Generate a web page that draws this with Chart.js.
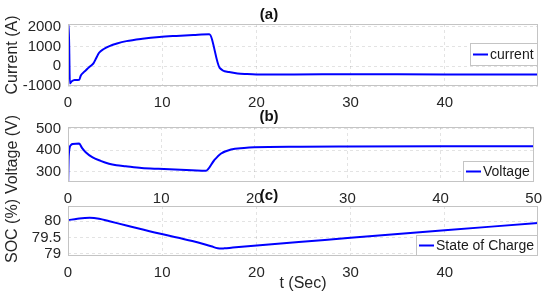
<!DOCTYPE html>
<html>
<head>
<meta charset="utf-8">
<script src="https://cdn.jsdelivr.net/npm/chart.js@4"></script>
<style>
  body { margin: 0; background: #fff; }
  #wrap { position: relative; width: 550px; height: 293px; }
  canvas { position: absolute; left: 0; }
</style>
</head>
<body>
<div id="wrap">
  <canvas id="chartA" width="550" height="110" style="top:0px"></canvas>
  <canvas id="chartB" width="550" height="110" style="top:100px"></canvas>
  <canvas id="chartC" width="550" height="108" style="top:185px"></canvas>
</div>
<script>
// (a) current
const timeA = [0.05, 0.08, 0.2, 0.4, 0.7, 1.2, 1.35, 1.6, 1.9, 2.2, 2.5, 2.7, 3.0, 3.3, 3.8, 4.4, 5.2, 6.2, 7.9, 9.7, 11.5, 13.3, 15.0, 16.1, 17.1, 18.0, 18.9, 20, 24, 30, 40, 49.9];
const current = [2150, 2150, -870, -760, -690, -680, -480, -330, -200, -60, 60, 150, 420, 690, 880, 1025, 1160, 1280, 1400, 1490, 1545, 1590, 1625, -80, -290, -360, -390, -410, -410, -405, -410, -410];
// (b) voltage
const timeB = [0.02, 0.06, 0.12, 0.2, 0.35, 0.5, 1.2, 1.5, 1.9, 2.6, 3.5, 4.4, 5.2, 6.2, 7.9, 9.7, 11.5, 13.3, 14.8, 15.7, 16.4, 17.5, 18.9, 20, 25, 30, 40, 50];
const voltage = [255, 350, 395, 415, 425, 428, 430, 410, 390, 367, 350, 337, 330, 325, 317, 313, 310, 307, 304, 353, 383, 403, 410, 413, 416, 417, 418, 418];
// (c) state of charge
const timeC = [0, 1, 2.3, 3.3, 4.4, 6.2, 9.7, 13.2, 15.2, 15.9, 16.6, 17.5, 24.5, 30, 40, 49.9];
const soc = [80.03, 80.08, 80.11, 80.08, 80.0, 79.87, 79.62, 79.39, 79.23, 79.17, 79.165, 79.19, 79.36, 79.49, 79.72, 79.95];

const ticksX = [0, 10, 20, 30, 40];
const ticksXB = [0, 10, 20, 30, 40, 50];
const ticksCurrent = [-1000, 0, 1000, 2000];
const ticksVoltage = [300, 400, 500];
const ticksSoc = [79, 79.5, 80];

const FONT = '"Liberation Sans", Arial, sans-serif';
const TXT = '#262626';

// box round the plot area + legend inside it
const frameAndLegend = {
    id: 'frameAndLegend',
    afterDatasetsDraw(chart, args, opts) {
        const { ctx, chartArea: a } = chart;
        ctx.save();
        ctx.strokeStyle = '#c4c4c4';
        ctx.lineWidth = 1;
        ctx.strokeRect(Math.round(a.left) + 0.5, Math.round(a.top) + 0.5,
            Math.round(a.right - a.left) - 1, Math.round(a.bottom - a.top) - 1);

        const label = chart.data.datasets[0].label;
        ctx.font = '14px ' + FONT;
        const w = Math.round(3 + 15 + 2 + ctx.measureText(label).width + 4);
        const h = opts.height || 21;
        const x = Math.round(a.right) - w;
        const y = opts.atBottom ? Math.round(a.bottom) - h : Math.round(a.top) + opts.offsetTop;
        ctx.fillStyle = '#fff';
        ctx.fillRect(x, y, w, h);
        ctx.strokeRect(x + 0.5, y + 0.5, w - 1, h - 1);
        ctx.strokeStyle = '#0000ff';
        ctx.lineWidth = 2;
        ctx.beginPath();
        ctx.moveTo(x + 3, y + h / 2);
        ctx.lineTo(x + 18, y + h / 2);
        ctx.stroke();
        ctx.fillStyle = '#1a1a1a';
        ctx.textBaseline = 'middle';
        ctx.fillText(label, x + 20, y + h / 2 + 1);
        ctx.restore();
    }
};

function makeChart(id, o) {
    const points = o.t.map((t, i) => ({ x: t, y: o.v[i] }));
    return new Chart(document.getElementById(id), {
        type: 'line',
        data: {
            datasets: [{
                label: o.label,
                data: points,
                borderColor: '#0000ff',
                borderWidth: 2,
                pointRadius: 0,
                cubicInterpolationMode: o.smooth ? 'default' : 'monotone',
                tension: o.smooth ? 0.4 : 0,
                fill: false
            }]
        },
        options: {
            responsive: false,
            animation: false,
            layout: { padding: { left: 0, right: 12, top: 0, bottom: 0 } },
            plugins: {
                legend: { display: false },
                tooltip: { enabled: false },
                title: {
                    display: true,
                    text: o.title,
                    color: '#111',
                    font: { family: FONT, size: 15, weight: 'bold' },
                    padding: o.titlePad
                },
                frameAndLegend: o.legend
            },
            scales: {
                x: {
                    type: 'linear',
                    min: 0,
                    max: o.xMax,
                    afterBuildTicks: s => { s.ticks = o.xTicks.map(v => ({ value: v })); },
                    afterFit: s => { s.height = o.xHeight; },
                    grid: { color: 'rgba(0,0,0,0.11)', drawTicks: false },
                    border: { display: false, dash: [3, 3] },
                    ticks: {
                        color: TXT, padding: 8, maxRotation: 0, autoSkip: false,
                        font: { family: FONT, size: 15 },
                        callback: v => String(v)
                    },
                    title: o.xTitle ? {
                        display: true, text: o.xTitle, color: TXT,
                        font: { family: FONT, size: 16 }, padding: 0
                    } : { display: false }
                },
                y: {
                    min: o.yMin,
                    max: o.yMax,
                    afterBuildTicks: s => { s.ticks = o.yTicks.map(v => ({ value: v })); },
                    afterFit: s => { s.width = 68; },
                    grid: { color: 'rgba(0,0,0,0.11)', drawTicks: false },
                    border: { display: false, dash: [3, 3] },
                    ticks: {
                        color: TXT, padding: 7, autoSkip: false,
                        font: { family: FONT, size: 15 },
                        callback: v => String(v)
                    },
                    title: {
                        display: true, text: o.yTitle, color: TXT,
                        font: { family: FONT, size: 16 }, padding: { top: 3, bottom: 0 }
                    }
                }
            }
        },
        plugins: [frameAndLegend]
    });
}

makeChart('chartA', {
    t: timeA, v: current, label: 'current', title: '(a)',
    titlePad: { top: 6, bottom: 0 },
    xMax: 49.9, xTicks: ticksX, xHeight: 24,
    yMin: -1000, yMax: 2150, yTicks: ticksCurrent, yTitle: 'Current (A)',
    legend: { atBottom: false, offsetTop: 19, height: 23 }
});

makeChart('chartB', {
    t: timeB, v: voltage, label: 'Voltage', title: '(b)',
    titlePad: { top: 8, bottom: 1 },
    xMax: 50, xTicks: ticksXB, xHeight: 28,
    yMin: 252, yMax: 507, yTicks: ticksVoltage, yTitle: 'Voltage (V)',
    legend: { atBottom: true }
});

makeChart('chartC', {
    t: timeC, v: soc, label: 'State of Charge', title: '(c)', smooth: true,
    titlePad: { top: 2, bottom: 1 },
    xMax: 49.9, xTicks: ticksX, xHeight: 37, xTitle: 't (Sec)',
    yMin: 78.93, yMax: 80.47, yTicks: ticksSoc, yTitle: 'SOC (%)',
    legend: { atBottom: true }
});
</script>
</body>
</html>
